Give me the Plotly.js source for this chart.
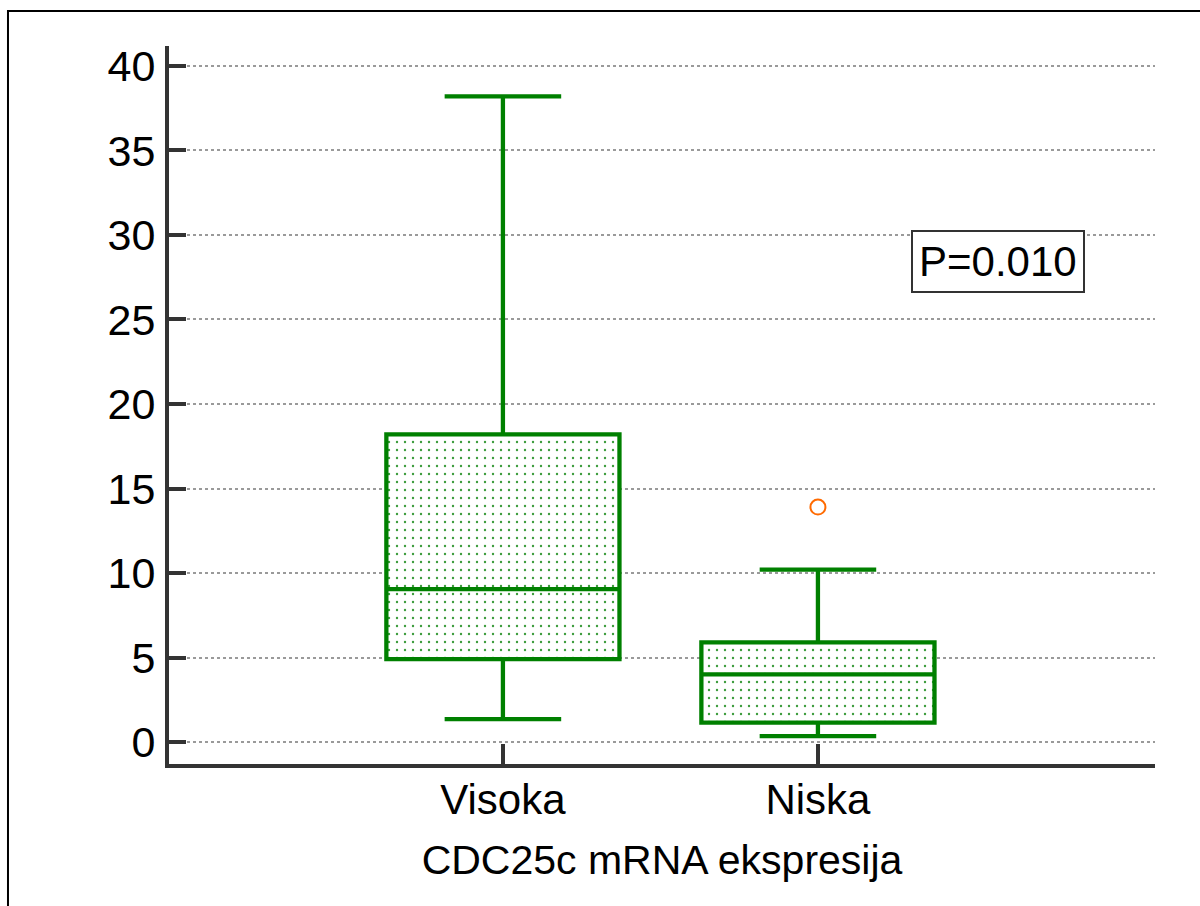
<!DOCTYPE html>
<html>
<head>
<meta charset="utf-8">
<script src="https://cdn.plot.ly/plotly-3.0.1.min.js"></script>
<style>html,body{margin:0;padding:0;background:#fff;}#chart{width:1200px;height:906px;}</style>
</head>
<body>
<div id="chart"></div>
<script>
const categories = ["Visoka", "Niska"];
const lowerWhisker = [1.35, 0.35];
const q1Values = [4.9, 1.15];
const medianValues = [9.05, 4.0];
const q3Values = [18.2, 5.9];
const upperWhisker = [38.2, 10.2];
const outlierCategories = ["Niska"];
const outlierValues = [13.9];
const pValueText = "P=0.010";
const xTitle = "CDC25c mRNA ekspresija";

const green = "#008000";
const axisColor = "#333333";

const traces = [
  {
    type: "bar",
    x: categories,
    base: q1Values,
    y: q3Values.map((v, i) => v - q1Values[i]),
    width: 0.74,
    marker: {
      color: "rgba(0,0,0,0)",
      line: {width: 0},
      pattern: {shape: ".", fgcolor: "#3c9c3c", bgcolor: "white", size: 8, solidity: 0.07, fillmode: "replace"}
    },
    hoverinfo: "skip",
    showlegend: false
  },
  {
    type: "box",
    x: categories,
    lowerfence: lowerWhisker,
    q1: q1Values,
    median: medianValues,
    q3: q3Values,
    upperfence: upperWhisker,
    width: 0.74,
    whiskerwidth: 0.5,
    fillcolor: "rgba(0,0,0,0)",
    line: {color: green, width: 4.3},
    boxpoints: false,
    showlegend: false
  },
  {
    type: "scatter",
    mode: "markers",
    x: outlierCategories,
    y: outlierValues,
    marker: {symbol: "circle-open", size: 15, color: "#ff6a00", line: {width: 2, color: "#ff6a00"}},
    showlegend: false
  }
];

const layout = {
  width: 1200,
  height: 906,
  margin: {l: 169, r: 45, t: 46, b: 142},
  paper_bgcolor: "white",
  plot_bgcolor: "white",
  font: {family: "Liberation Sans, Arial, sans-serif", color: "#000", size: 42},
  showlegend: false,
  barmode: "overlay",
  xaxis: {
    type: "category",
    range: [-1.06, 2.07],
    showline: true,
    linecolor: axisColor,
    linewidth: 4,
    ticks: "inside",
    ticklen: 20,
    tickwidth: 4,
    tickcolor: axisColor,
    showgrid: false,
    zeroline: false,
    tickfont: {size: 42},
    ticklabelstandoff: -4,
    title: {text: xTitle, font: {size: 41}, standoff: 24},
    fixedrange: true
  },
  yaxis: {
    range: [-1.30, 41.18],
    tickvals: [0, 5, 10, 15, 20, 25, 30, 35, 40],
    showline: true,
    linecolor: axisColor,
    linewidth: 4,
    ticks: "inside",
    ticklen: 17,
    tickwidth: 4,
    tickcolor: axisColor,
    showgrid: true,
    gridcolor: "#9a9a9a",
    gridwidth: 2,
    griddash: "dot",
    zeroline: false,
    tickfont: {size: 43},
    ticklabelstandoff: 1,
    fixedrange: true
  },
  annotations: [
    {
      xref: "paper", yref: "y",
      x: 0.841, y: 28.45,
      xanchor: "center", yanchor: "middle",
      text: pValueText,
      showarrow: false,
      font: {size: 42, color: "#000"},
      bgcolor: "white",
      bordercolor: axisColor,
      borderwidth: 2,
      borderpad: 6
    }
  ],
  shapes: [
    {
      type: "rect", xref: "paper", yref: "paper",
      x0: -0.1633, x1: 1.2, y0: -0.3, y1: 1.0487,
      line: {color: "#000", width: 2},
      fillcolor: "rgba(0,0,0,0)",
      layer: "below"
    }
  ]
};

Plotly.newPlot("chart", traces, layout, {displayModeBar: false, staticPlot: true});
</script>
</body>
</html>
